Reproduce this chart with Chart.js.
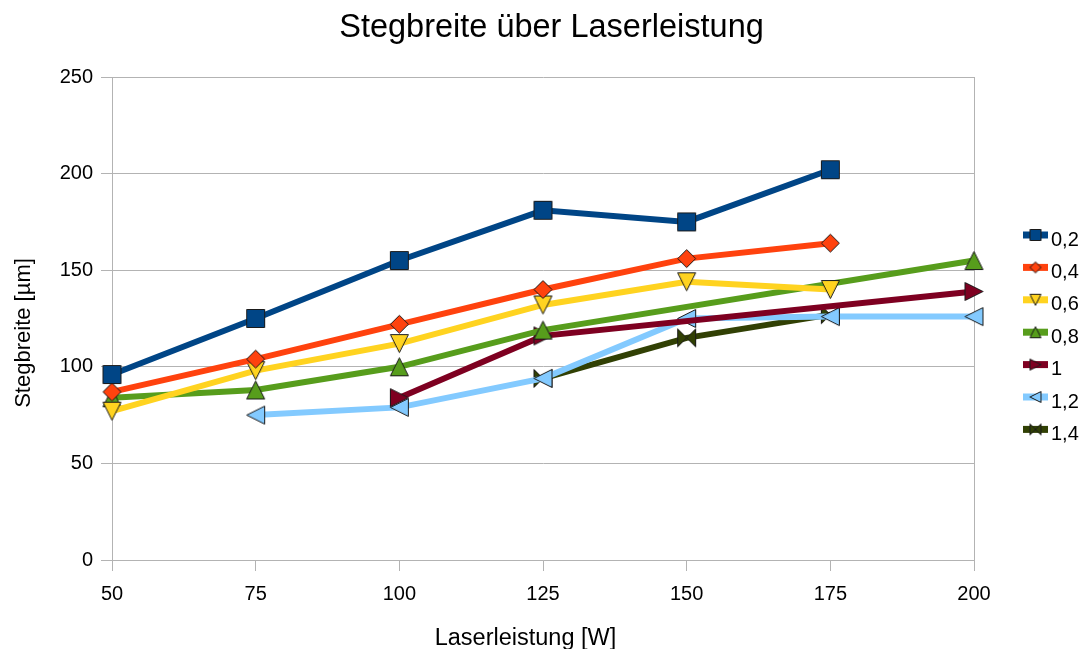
<!DOCTYPE html>
<html>
<head>
<meta charset="utf-8">
<script src="https://cdn.jsdelivr.net/npm/chart.js@4.4.1/dist/chart.umd.min.js"></script>
<style>
html, body { margin: 0; padding: 0; background: #fff; }
#wrap { width: 1089px; height: 649px; }
</style>
</head>
<body>
<div id="wrap"><canvas id="myChart" width="1089" height="649"></canvas></div>
<script>
// Laserleistung [W]
const labels = ['50', '75', '100', '125', '150', '175', '200']
const seriesNames = ['0,2', '0,4', '0,6', '0,8', '1', '1,2', '1,4']

// Stegbreite [µm], one list per series
const values02 = [96, 125, 155, 181, 175, 202, null]
const values04 = [87, 104, 122, 140, 156, 164, null]
const values06 = [77, 98, 112, 132, 144, 140, null]
const values08 = [84, 88, 100, 119, null, null, 155]
const values10 = [null, null, 84, 116, null, null, 139]
const values12 = [null, 75, 79, 94, 125, 126, 126]
const values14 = [null, null, null, 94, 115, 127, null]

const allValues = [values02, values04, values06, values08, values10, values12, values14]
const colors = ['#004586', '#ff420e', '#ffd320', '#579d1c', '#7e0021', '#83caff', '#314004']
const shapes = ['square', 'diamond', 'down', 'up', 'right', 'left', 'bowtie']

const FONT = "'Liberation Sans', Arial, sans-serif"
const titleText = 'Stegbreite über Laserleistung'
const xTitle = 'Laserleistung [W]'
const yTitle = 'Stegbreite [µm]'

// marker images (the library draws them at each point)
function makeMarker(shape, fill, half) {
    const size = Math.ceil(half * 2 + 3)
    const cv = document.createElement('canvas')
    cv.width = size
    cv.height = size
    const ctx = cv.getContext('2d')
    const c = size / 2
    const h = half
    ctx.beginPath()
    if (shape === 'square') {
        ctx.rect(c - h, c - h, 2 * h, 2 * h)
    } else if (shape === 'diamond') {
        ctx.moveTo(c, c - h); ctx.lineTo(c + h, c); ctx.lineTo(c, c + h); ctx.lineTo(c - h, c); ctx.closePath()
    } else if (shape === 'down') {
        ctx.moveTo(c - h, c - h); ctx.lineTo(c + h, c - h); ctx.lineTo(c, c + h); ctx.closePath()
    } else if (shape === 'up') {
        ctx.moveTo(c, c - h); ctx.lineTo(c + h, c + h); ctx.lineTo(c - h, c + h); ctx.closePath()
    } else if (shape === 'right') {
        ctx.moveTo(c - h, c - h); ctx.lineTo(c + h, c); ctx.lineTo(c - h, c + h); ctx.closePath()
    } else if (shape === 'left') {
        ctx.moveTo(c + h, c - h); ctx.lineTo(c - h, c); ctx.lineTo(c + h, c + h); ctx.closePath()
    } else if (shape === 'bowtie') {
        ctx.moveTo(c - h, c - h); ctx.lineTo(c, c); ctx.lineTo(c - h, c + h); ctx.closePath()
        ctx.moveTo(c + h, c - h); ctx.lineTo(c, c); ctx.lineTo(c + h, c + h); ctx.closePath()
    }
    ctx.fillStyle = fill
    ctx.fill()
    ctx.lineWidth = 1
    ctx.strokeStyle = '#1a1a1a'
    ctx.stroke()
    return cv
}

const bigMarkers = shapes.map((s, i) => makeMarker(s, colors[i], 9))
const smallMarkers = shapes.map((s, i) => makeMarker(s, colors[i], 5.5))

const datasets = allValues.map((vals, i) => ({
    label: seriesNames[i],
    data: vals,
    borderColor: colors[i],
    backgroundColor: colors[i],
    borderWidth: 6,
    pointStyle: bigMarkers[i],
    spanGaps: true,
    tension: 0
}))

// titles and the legend on the right
const decorations = {
    id: 'decorations',
    afterDraw(chart) {
        const ctx = chart.ctx
        ctx.save()
        ctx.fillStyle = '#000'
        ctx.textBaseline = 'alphabetic'
        ctx.textAlign = 'center'
        ctx.font = '32.5px ' + FONT
        ctx.fillText(titleText, 551.5, 37)

        ctx.font = '23.5px ' + FONT
        ctx.fillText(xTitle, 525.5, 645)

        ctx.save()
        ctx.translate(30, 333)
        ctx.rotate(-Math.PI / 2)
        ctx.font = '22px ' + FONT
        ctx.fillText(yTitle, 0, 0)
        ctx.restore()

        seriesNames.forEach((name, i) => {
            const y = 235 + i * 32.4
            ctx.strokeStyle = colors[i]
            ctx.lineWidth = 7
            ctx.beginPath()
            ctx.moveTo(1023, y)
            ctx.lineTo(1048, y)
            ctx.stroke()
            const m = smallMarkers[i]
            ctx.drawImage(m, 1035.5 - m.width / 2, y - m.height / 2)
            ctx.fillStyle = '#000'
            ctx.font = '20px ' + FONT
            ctx.textBaseline = 'middle'
            ctx.textAlign = 'left'
            ctx.fillText(name, 1051, y + 5)
        })
        ctx.restore()
    }
}

const config = {
    type: 'line',
    data: { labels: labels, datasets: datasets },
    options: {
        responsive: false,
        animation: false,
        events: [],
        layout: { padding: { left: 0, right: 115, top: 77, bottom: 0 } },
        plugins: {
            legend: { display: false },
            tooltip: { enabled: false },
            title: { display: false }
        },
        scales: {
            x: {
                type: 'category',
                offset: false,
                ticks: { color: '#000', font: { family: FONT, size: 20 }, padding: 11, maxRotation: 0 },
                grid: {
                    color: (c) => c.index === labels.length - 1 ? '#b3b3b3' : 'rgba(0,0,0,0)',
                    tickColor: '#b3b3b3',
                    tickLength: 11
                },
                border: { color: '#b3b3b3' },
                afterFit: (s) => { s.height = 89 }
            },
            y: {
                min: 0,
                max: 250,
                ticks: { stepSize: 50, color: '#000', font: { family: FONT, size: 20 }, padding: 8 },
                grid: { color: '#b3b3b3', tickColor: '#b3b3b3', tickLength: 11 },
                border: { color: '#b3b3b3' },
                afterFit: (s) => { s.width = 112 }
            }
        }
    },
    plugins: [decorations]
}

const myChart = new Chart(document.getElementById('myChart'), config)
</script>
</body>
</html>
